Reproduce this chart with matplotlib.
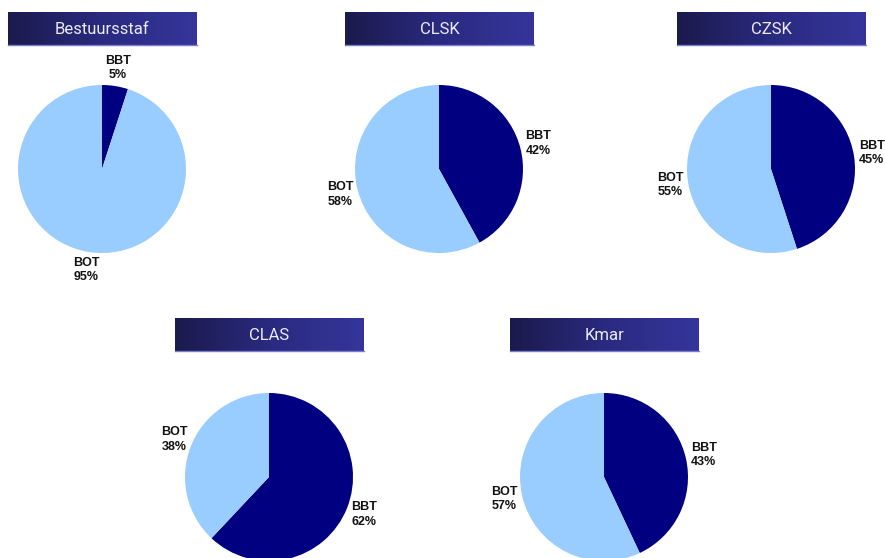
import matplotlib.pyplot as plt
import numpy as np

# panels and BBT share (percent); BOT is the rest
units = ["Bestuursstaf", "CLSK", "CZSK", "CLAS", "Kmar"]
bbt_pct = [5, 42, 45, 62, 43]
bot_pct = [95, 58, 55, 38, 57]
series = ["BBT", "BOT"]
colors = ["#000080", "#99ccff"]

W, H = 885, 558
# layout in pixels (top-left origin): pie centre, title box left/top
centres = [(102, 169), (439, 169), (771, 169), (269, 477), (604, 477)]
boxes = [(8, 12), (345, 12), (677, 12), (175, 318), (510, 318)]
box_w, box_h = 189, 33
radius = 84

fig = plt.figure(figsize=(W / 100, H / 100), dpi=100)
ax = fig.add_axes([0, 0, 1, 1])

grad = np.linspace(0, 1, 256).reshape(1, -1)
cmap = plt.matplotlib.colors.LinearSegmentedColormap.from_list(
    "hdr", ["#1b1a4c", "#2a2a80", "#35359b"])

for name, b, o, (cx, cy), (bx, by) in zip(units, bbt_pct, bot_pct, centres, boxes):
    # title box with a horizontal gradient
    y0 = H - by - box_h
    ax.imshow(grad, cmap=cmap, aspect="auto",
              extent=(bx, bx + box_w, y0, y0 + box_h), zorder=2)
    ax.plot([bx, bx + box_w], [y0, y0], color="#7b7bd0", lw=1, zorder=3)
    ax.text(bx + box_w / 2, y0 + box_h / 2 - 1, name, color="#ececf4",
            fontsize=12, family="Roboto", ha="center", va="center", zorder=4)

    wedges, texts = ax.pie(
        [b, o], colors=colors, startangle=90, counterclock=False,
        center=(cx, H - cy), radius=radius, labeldistance=1.215,
        labels=[f"{s}\n{v}%" for s, v in zip(series, [b, o])],
        textprops=dict(fontsize=9, fontweight="bold", family="Liberation Sans",
                       color="#111111", linespacing=1.25),
        frame=True)
    for t in texts:
        t.set_ha("center")
        t.set_va("center")
        t.set_multialignment("center")

ax.set_xlim(0, W)
ax.set_ylim(0, H)
ax.set_aspect("equal")
ax.axis("off")
fig.savefig("out.png", dpi=100)
